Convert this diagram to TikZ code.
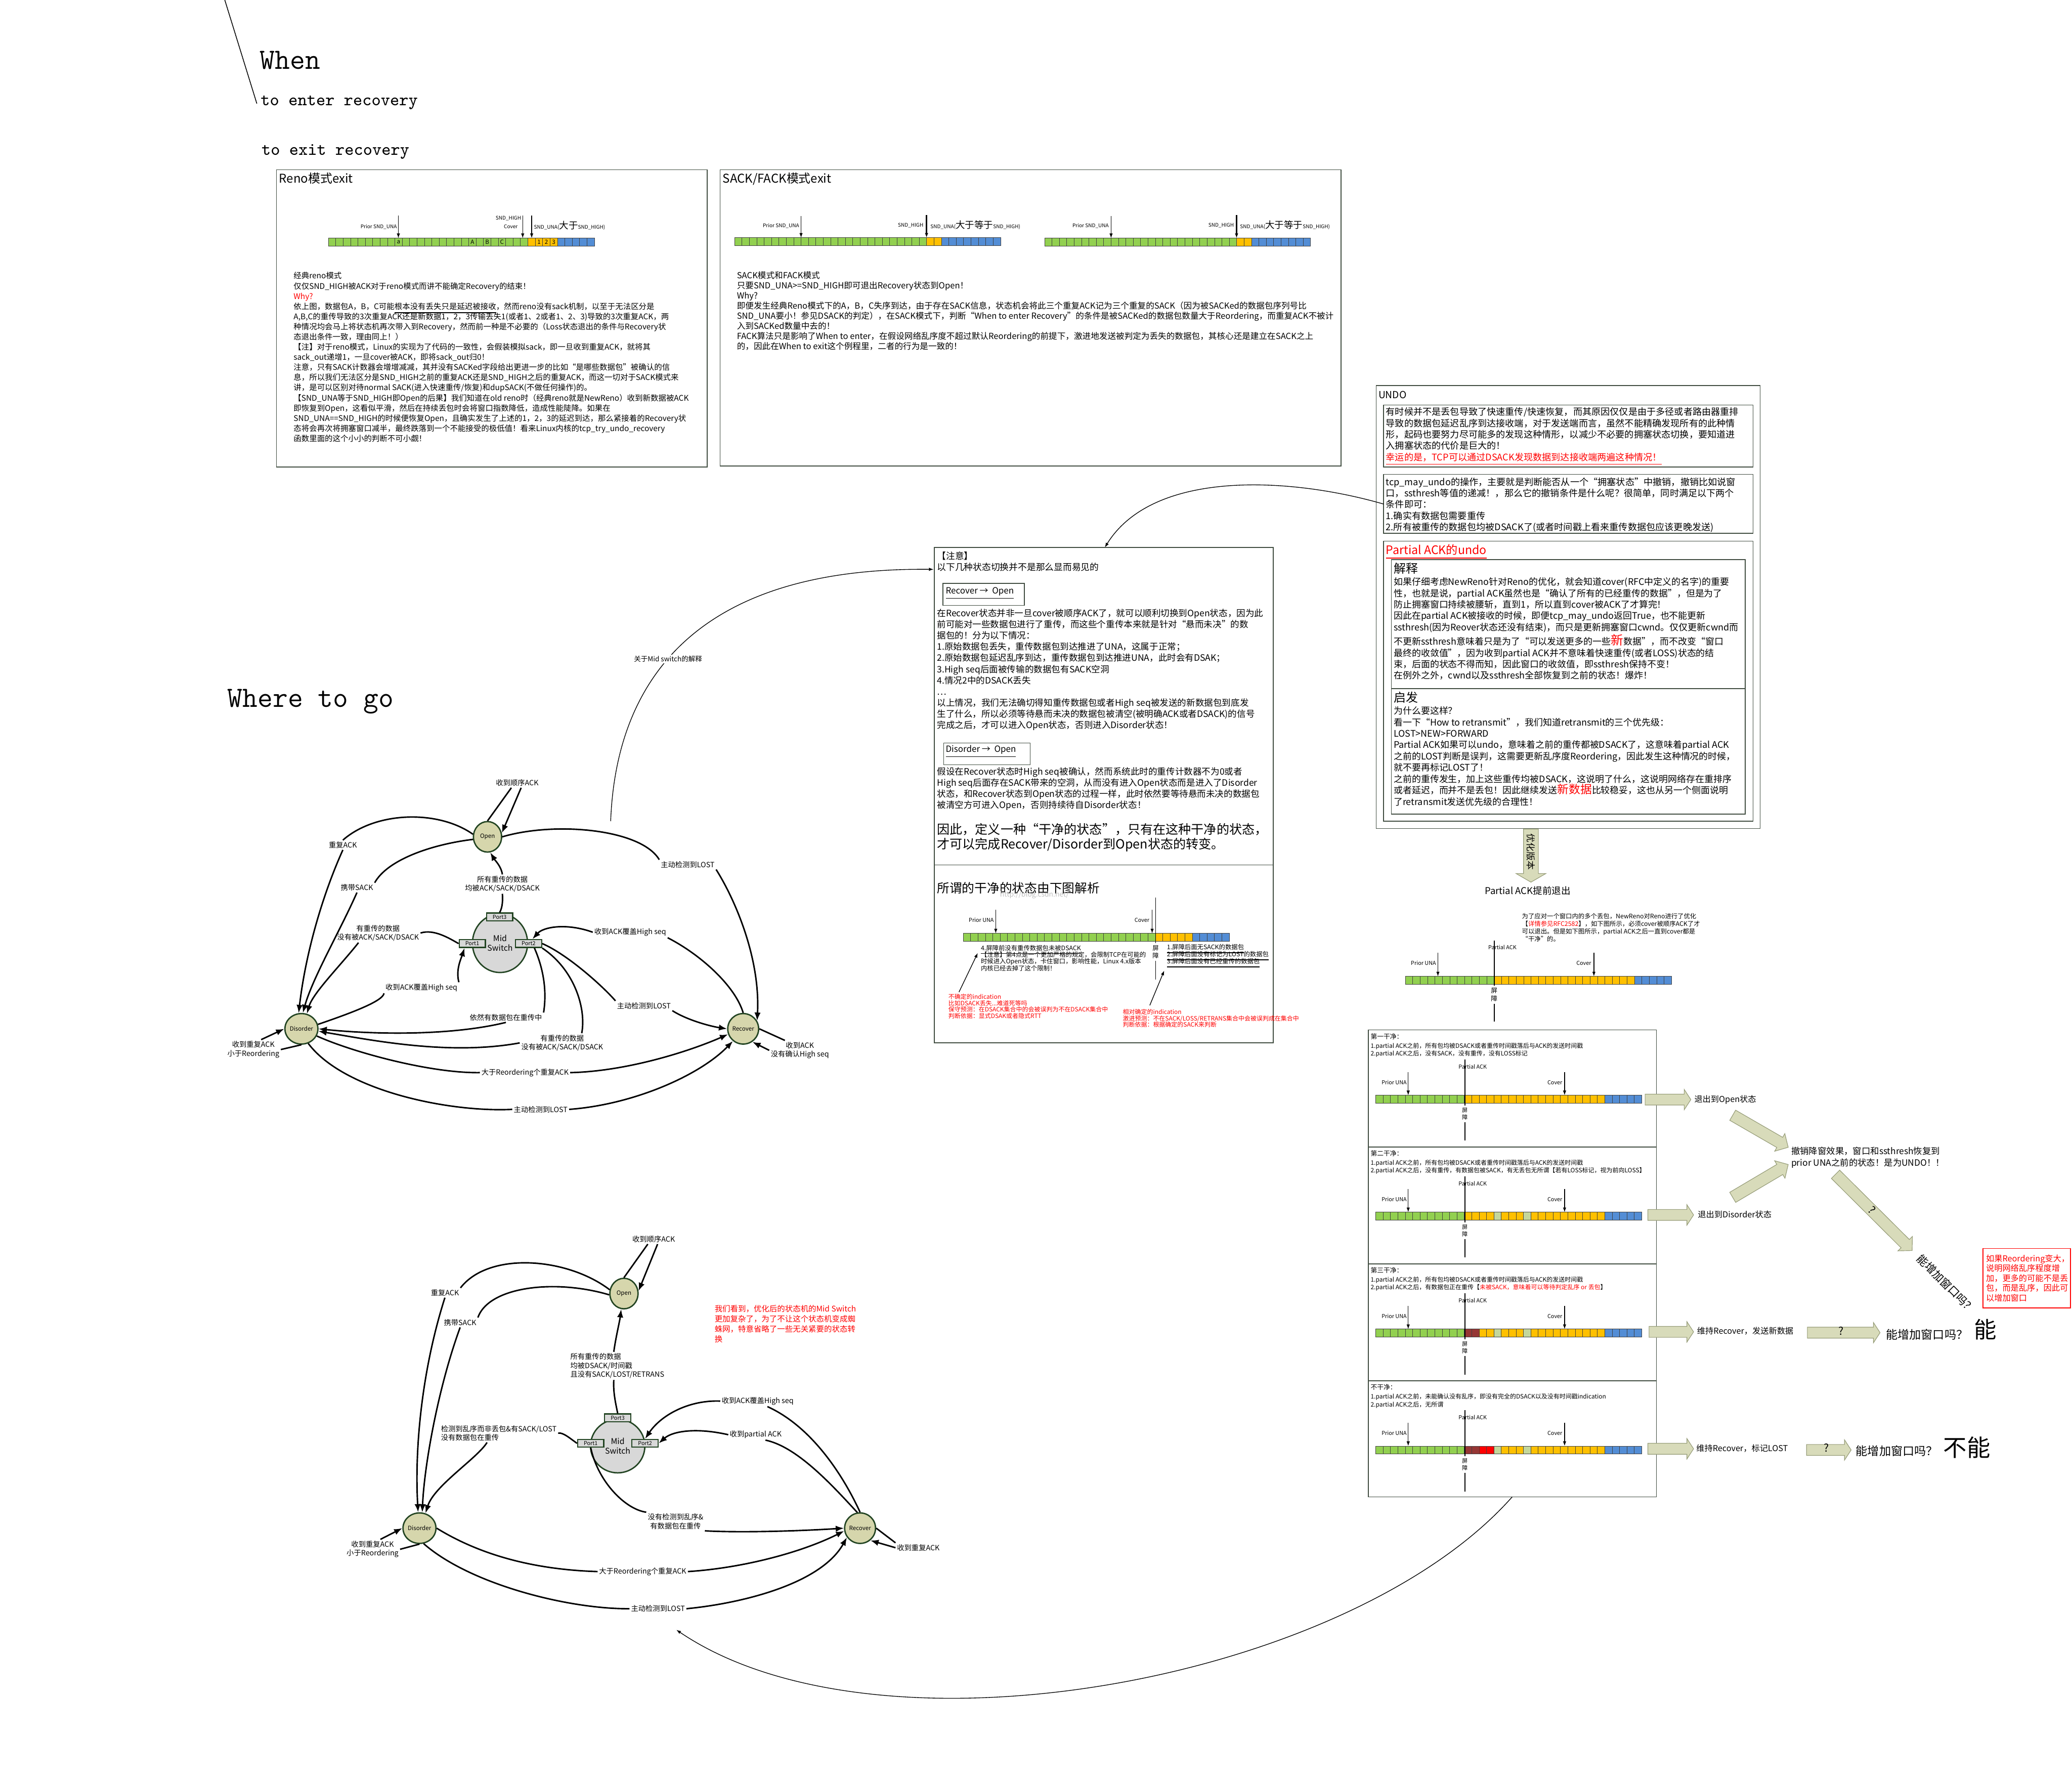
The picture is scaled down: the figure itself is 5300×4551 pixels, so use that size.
\documentclass[tikz,border=0pt]{standalone}
\usepackage{fontspec}
\setmainfont{Noto Sans CJK SC}
\usetikzlibrary{arrows.meta,shapes.geometric,calc}

\definecolor{cg}{RGB}{146,208,80}
\definecolor{co}{RGB}{255,192,0}
\definecolor{cb}{RGB}{83,141,213}
\definecolor{cl}{RGB}{196,215,155}
\definecolor{cd}{RGB}{150,54,52}
\definecolor{cr}{RGB}{255,0,0}
\definecolor{statefill}{RGB}{214,214,172}
\definecolor{stateedge}{RGB}{34,68,34}
\definecolor{switchfill}{RGB}{216,216,216}
\definecolor{arrowfill}{RGB}{216,219,186}
\definecolor{arrowedge}{RGB}{150,156,120}
\definecolor{framecol}{RGB}{64,76,64}

\newcommand{\fsz}[2]{\fontsize{#1}{#2}\selectfont}
\newcommand{\uln}[1]{\smash{\underline{#1}}}

\tikzset{
  every picture/.style={line width=0.4pt},
  frame/.style={draw=framecol, line width=0.4pt},
  cellline/.style={draw=black!75, line width=0.25pt},
  ptr/.style={line width=0.35pt, -{Latex[length=2.4pt,width=1.7pt]}},
  barrier/.style={line width=0.45pt},
  txt/.style={anchor=north west, inner sep=0pt, align=left},
  lbl/.style={inner sep=0pt},
  state/.style={ellipse, draw=stateedge, line width=0.7pt, fill=statefill, inner sep=0pt,
    minimum width=14.4pt, minimum height=15.6pt, font=\fsz{3}{3.6}},
  switchnode/.style={ellipse, draw=stateedge, line width=0.7pt, fill=switchfill, inner sep=0pt,
    minimum width=28.2pt, minimum height=30pt, align=center, font=\fsz{4.1}{5}},
  port/.style={rectangle, draw=stateedge, line width=0.6pt, fill=switchfill, inner sep=0pt,
    minimum width=13.4pt, minimum height=4pt, font=\fsz{2.8}{3}},
  elbl/.style={inner sep=0.6pt, align=center, font=\fsz{3.7}{4.5}},
  flowline/.style={line width=0.75pt},
  flow/.style={line width=0.75pt, -{Latex[length=4.2pt,width=3.2pt]}},
  blockar/.style={draw=arrowedge, fill=arrowfill, line width=0.3pt},
}

% a row of sequence cells: x, y, list colour/count
\newcount\cellno
\newcommand{\seqbar}[3]{%
  \global\cellno=0
  \foreach \cc/\nn in {#3}{%
    \foreach \kk in {1,...,\nn}{%
      \draw[cellline, fill=\cc] ({#1+18.9*\the\cellno},#2) rectangle ++(18.9,20);
      \global\advance\cellno by 1
    }%
  }%
}

% fat arrow: tail, tip, half shaft, half head, head length
\newcommand{\blockarrow}[5]{%
  \coordinate (ba-c) at ($(#2)!#5!(#1)$);
  \draw[blockar] ($(#1)!#3!90:(#2)$) -- ($(ba-c)!#3!90:(#2)$) -- ($(ba-c)!#4!90:(#2)$) -- (#2)
    -- ($(ba-c)!#4!-90:(#2)$) -- ($(ba-c)!#3!-90:(#2)$) -- ($(#1)!#3!-90:(#2)$) -- cycle;
}

% one "clean" panel: index, top, cells
\newcommand{\cleanpanel}[3]{%
  \seqbar{3519}{#2+167}{#3}
  \draw[ptr] (3602,#2+108) -- (3602,#2+167);
  \draw[ptr] (4002,#2+108) -- (4002,#2+167);
  \node[lbl, anchor=base east, font=\fsz{2.8}{3}] (prior#1) at (3599,#2+139) {Prior UNA};
  \node[lbl, anchor=base east, font=\fsz{2.8}{3}] (cover#1) at (3997,#2+139) {Cover};
  \node[lbl, anchor=base west, font=\fsz{2.8}{3}] (pack#1) at (3730,#2+99) {Partial ACK};
  \node[lbl, inner sep=1pt, align=center, font=\fsz{2.9}{3.6}] (wall#1) at (3747,#2+214) {屏\\障};
  \draw[barrier] (3747,#2+75) -- (wall#1.north);
  \draw[barrier] (wall#1.south) -- (3747,#2+283);
}

\begin{document}
\begin{tikzpicture}[x=0.2pt,y=0.2pt,yscale=-1,xscale=1]
\useasboundingbox (0,0) rectangle (5300,4551);

%% headings
\draw (575,0) -- (657,265);
\node[lbl, anchor=base west, font=\ttfamily\fsz{15}{16}] (whenTitle) at (664,176) {When};
\node[lbl, anchor=base west, font=\ttfamily\fsz{9}{10}] (enterTitle) at (666,270) {to enter recovery};
\node[lbl, anchor=base west, font=\ttfamily\fsz{9}{10}] (exitTitle) at (668,396) {to exit recovery};
\node[lbl, anchor=base west, font=\ttfamily\fsz{15}{16}] (whereTitle) at (581,1808) {Where to go};

%% Reno box
\draw[frame] (707,434) rectangle (1809,1194);
\node[lbl, anchor=base west, font=\fsz{6.2}{7}] (renoTitle) at (713,468) {Reno模式exit};
\seqbar{840}{609}{cg/27,co/4,cb/5}
\foreach \lab/\ci in {a/9,A/19,B/21,C/23,1/28,2/29,3/30}
  \node[lbl, font=\fsz{3}{3}] (renoCell\ci) at ({840+18.9*(\ci+0.5)},619) {\lab};
\draw[ptr] (1019,551) -- (1019,609);
\draw[ptr] (1337,551) -- (1337,609);
\draw[ptr] (1360,551) -- (1360,609);
\node[lbl, anchor=base east, font=\fsz{2.6}{3}] (renoPrior) at (1016,584) {Prior SND\_UNA};
\node[lbl, anchor=base east, font=\fsz{2.6}{3}] (renoHigh) at (1334,562) {SND\_HIGH};
\node[lbl, anchor=base east, font=\fsz{2.6}{3}] (renoCover) at (1325,584) {Cover};
\node[lbl, anchor=base west] (renoUna) at (1365,586) {{\fsz{2.6}{3}SND\_UNA(}{\fsz{4.8}{5}大于}{\fsz{2.6}{3}SND\_HIGH)}};
\node[txt, font=\fsz{4.0}{5.2}] (renoText) at (750,695) {经典reno模式\\
仅仅SND\_HIGH被ACK对于reno模式而讲不能确定Recovery的结束！\\
\textcolor{red}{Why?}\\
依上图，数据包A，B，C可能\uln{根本没有丢失只是延迟被接收}，然而reno没有sack机制，以至于无法区分是\\
A,B,C的重传导致的3次重复ACK还是新数据1，2，3传输丢失1(或者1、2或者1、2、3)导致的3次重复ACK，两\\
种情况均会马上将状态机再次带入到Recovery，然而前一种是不必要的（Loss状态退出的条件与Recovery状\\
态退出条件一致，理由同上！）\\
【注】对于reno模式，Linux的实现为了代码的一致性，会假装模拟sack，即一旦收到重复ACK，就将其\\
sack\_out递增1，一旦cover被ACK，即将sack\_out归0！\\
注意，只有SACK计数器会增增减减，其并没有SACKed字段给出更进一步的比如“是哪些数据包”被确认的信\\
息，所以我们无法区分是SND\_HIGH之前的重复ACK还是SND\_HIGH之后的重复ACK，而这一切对于SACK模式来\\
讲，是可以区别对待normal SACK(进入快速重传/恢复)和dupSACK(不做任何操作)的。\\
【SND\_UNA等于SND\_HIGH即Open的后果】我们知道在old reno时（经典reno就是NewReno）收到新数据被ACK\\
即恢复到Open，这看似平滑，然后在持续丢包时会将窗口指数降低，造成性能陡降。如果在\\
SND\_UNA==SND\_HIGH的时候便恢复Open，且确实发生了上述的1，2，3的延迟到达，那么紧接着的Recovery状\\
态将会再次将拥塞窗口减半，最终跌落到一个不能接受的极低值！看来Linux内核的tcp\_try\_undo\_recovery\\
函数里面的这个小小的判断不可小觑！};

%% SACK/FACK box
\draw[frame] (1842,434) rectangle (3430,1192);
\node[lbl, anchor=base west, font=\fsz{6.2}{7}] (sackTitle) at (1848,468) {SACK/FACK模式exit};
\seqbar{1879}{608}{cg/26,co/2,cb/8}
\draw[ptr] (2049,553) -- (2049,608);
\draw[ptr, line width=0.8pt] (2370,550) -- (2370,608);
\node[lbl, anchor=base east, font=\fsz{2.6}{3}] (sackPriorA) at (2045,582) {Prior SND\_UNA};
\node[lbl, anchor=base east, font=\fsz{2.6}{3}] (sackHighA) at (2363,580) {SND\_HIGH};
\node[lbl, anchor=base west] (sackUnaA) at (2379,584) {{\fsz{2.6}{3}SND\_UNA(}{\fsz{4.8}{5}大于等于}{\fsz{2.6}{3}SND\_HIGH)}};
\seqbar{2672}{609}{cg/26,co/2,cb/8}
\draw[ptr] (2842,553) -- (2842,609);
\draw[ptr, line width=0.8pt] (3163,550) -- (3163,609);
\node[lbl, anchor=base east, font=\fsz{2.6}{3}] (sackPriorB) at (2837,582) {Prior SND\_UNA};
\node[lbl, anchor=base east, font=\fsz{2.6}{3}] (sackHighB) at (3157,580) {SND\_HIGH};
\node[lbl, anchor=base west] (sackUnaB) at (3171,584) {{\fsz{2.6}{3}SND\_UNA(}{\fsz{4.8}{5}大于等于}{\fsz{2.6}{3}SND\_HIGH)}};
\node[txt, font=\fsz{4.3}{5.2}] (sackText) at (1884,693) {SACK模式和FACK模式\\
只要SND\_UNA>=SND\_HIGH即可退出Recovery状态到Open！\\
Why?\\
即便发生经典Reno模式下的A，B，C失序到达，由于存在SACK信息，状态机会将此三个重复ACK记为三个重复的SACK（因为被SACKed的数据包序列号比\\
SND\_UNA要小！参见DSACK的判定），在SACK模式下，判断“When to enter Recovery”的条件是被SACKed的数据包数量大于Reordering，而重复ACK不被计\\
入到SACKed数量中去的！\\
FACK算法只是影响了When to enter，在假设网络乱序度不超过默认Reordering的前提下，激进地发送被判定为丢失的数据包，其核心还是建立在SACK之上\\
的，因此在When to exit这个例程里，二者的行为是一致的！};

%% UNDO box
\draw[frame] (3520,986) rectangle (4502,2119);
\node[lbl, anchor=base west, font=\fsz{5}{6}] (undoTitle) at (3525,1019) {UNDO};
\draw[frame] (3539,1036) rectangle (4484,1194);
\node[txt, font=\fsz{4.7}{5.8}] (undoWhy) at (3544,1041) {有时候并不是丢包导致了快速重传/快速恢复，而其原因仅仅是由于多径或者路由器重排\\
导致的数据包延迟乱序到达接收端，对于发送端而言，虽然不能精确发现所有的此种情\\
形，起码也要努力尽可能多的发现这种情形，以减少不必要的拥塞状态切换，要知道进\\
入拥塞状态的代价是巨大的！\\
\textcolor{red}{\uln{幸运的是，TCP可以通过DSACK发现数据到达接收端两遍这种情况！}}};
\draw[frame] (3539,1213) rectangle (4484,1364);
\node[txt, font=\fsz{4.7}{5.8}] (undoCond) at (3544,1220) {tcp\_may\_undo的操作，主要就是判断能否从一个“拥塞状态”中撤销，撤销比如说窗\\
口，ssthresh等值的递减！，那么它的撤销条件是什么呢？很简单，同时满足以下两个\\
条件即可：\\
1.确实有数据包需要重传\\
2.所有被重传的数据包均被DSACK了(或者时间戳上看来重传数据包应该更晚发送)};
\draw[frame] (3539,1384) rectangle (4484,2100);
\node[lbl, anchor=base west, font=\fsz{6}{7}, text=red] (partialTitle) at (3544,1418) {\underline{Partial ACK的undo}};
\draw[frame] (3559,1431) rectangle (4464,1761);
\draw[frame] (3559,1761) rectangle (4464,2082);
\node[lbl, anchor=base west, font=\fsz{6.2}{7}] (explainTitle) at (3564,1465) {解释};
\node[txt, font=\fsz{4.65}{5.8}] (explainText) at (3564,1476) {如果仔细考虑NewReno针对Reno的优化，就会知道cover(RFC中定义的名字)的重要\\
性，也就是说，partial ACK虽然也是“确认了所有的已经重传的数据”，但是为了\\
防止拥塞窗口持续被腰斩，直到1，所以直到cover被ACK了才算完！\\
因此在partial ACK被接收的时候，即便tcp\_may\_undo返回True，也不能更新\\
ssthresh(因为Reover状态还没有结束)，而只是更新拥塞窗口cwnd。仅仅更新cwnd而\\
不更新ssthresh意味着只是为了“可以发送更多的一些{\fsz{6.4}{6.4}\textcolor{red}{新}}数据”，而不改变“窗口\\
最终的收敛值”，因为收到partial ACK并不意味着快速重传(或者LOSS)状态的结\\
束，后面的状态不得而知，因此窗口的收敛值，即ssthresh保持不变！\\
在例外之外，cwnd以及ssthresh全部恢复到之前的状态！爆炸！};
\node[lbl, anchor=base west, font=\fsz{6.2}{7}] (inspireTitle) at (3564,1795) {启发};
\node[txt, font=\fsz{4.65}{5.8}] (inspireText) at (3564,1806) {为什么要这样？\\
看一下“How to retransmit”，我们知道retransmit的三个优先级：\\
LOST>NEW>FORWARD\\
Partial ACK如果可以undo，意味着之前的重传都被DSACK了，这意味着partial ACK\\
之前的LOST判断是误判，这需要更新乱序度Reordering，因此发生这种情况的时候，\\
就不要再标记LOST了！\\
之前的重传发生，加上这些重传均被DSACK，这说明了什么，这说明网络存在重排序\\
或者延迟，而并不是丢包！因此继续发送{\fsz{5.9}{5.9}\textcolor{red}{新数据}}比较稳妥，这也从另一个侧面说明\\
了retransmit发送优先级的合理性！};

%% link from the undo conditions to the note
\coordinate (undoLink) at (3539,1289);
\coordinate (noteTop) at (2826,1400);
\draw[ptr] (undoLink) .. controls (3300,1220) and (2950,1200) .. (noteTop);

%% note box
\draw[frame] (2390,1400) rectangle (3257,2667);
\draw[frame] (2390,2212) -- (3257,2212);
\node[txt, font=\fsz{4.6}{5.8}] (noteHead) at (2396,1410) {【注意】\\以下几种状态切换并不是那么显而易见的};
\draw[frame] (2412,1492) rectangle (2620,1548);
\node[lbl, anchor=base west, font=\fsz{4.4}{5}] (recOpenTag) at (2418,1518) {\underline{Recover → \ Open}};
\node[txt, font=\fsz{4.55}{5.74}] (recOpenText) at (2396,1556) {在Recover状态并非一旦cover被顺序ACK了，就可以顺利切换到Open状态，因为此\\
前可能对一些数据包进行了重传，而这些个重传本来就是针对“悬而未决”的数\\
据包的！分为以下情况：\\
1.原始数据包丢失，重传数据包到达推进了UNA，这属于正常；\\
2.原始数据包延迟乱序到达，重传数据包到达推进UNA，此时会有DSAK；\\
3.High seq后面被传输的数据包有SACK空洞\\
4.情况2中的DSACK丢失\\
…\\
以上情况，我们无法确切得知重传数据包或者High seq被发送的新数据包到底发\\
生了什么，所以必须等待悬而未决的数据包被清空(被明确ACK或者DSACK)的信号\\
完成之后，才可以进入Open状态，否则进入Disorder状态！};
\draw[frame] (2414,1900) rectangle (2635,1956);
\node[lbl, anchor=base west, font=\fsz{4.4}{5}] (disOpenTag) at (2418,1923) {\underline{Disorder → \ Open}};
\node[txt, font=\fsz{4.55}{5.74}] (disOpenText) at (2396,1961) {假设在Recover状态时High seq被确认，然而系统此时的重传计数器不为0或者\\
High seq后面存在SACK带来的空洞，从而没有进入Open状态而是进入了Disorder\\
状态，和Recover状态到Open状态的过程一样，此时依然要等待悬而未决的数据包\\
被清空方可进入Open，否则持续待自Disorder状态！};
\node[txt, font=\fsz{6.5}{7.6}] (cleanDef) at (2396,2104) {因此，定义一种“干净的状态”，只有在这种干净的状态，\\才可以完成Recover/Disorder到Open状态的转变。};

%% clean state figure
\node[lbl, anchor=base west, font=\fsz{6.4}{7}] (cleanTitle) at (2396,2283) {所谓的干净的状态由下图解析};
\node[lbl, anchor=base west, font=\fsz{3.6}{4}, text=black!25] (watermark) at (2557,2293) {http://blog.csdn.net/};
\seqbar{2464}{2387}{cg/26,co/5,cb/5}
\draw[ptr] (2547,2327) -- (2547,2387);
\draw[ptr] (2947,2327) -- (2947,2387);
\node[lbl, anchor=base east, font=\fsz{2.8}{3}] (cleanPrior) at (2543,2358) {Prior UNA};
\node[lbl, anchor=base east, font=\fsz{2.8}{3}] (cleanCover) at (2941,2358) {Cover};
\node[lbl, inner sep=1pt, align=center, font=\fsz{3.2}{3.9}] (cleanWall) at (2956,2435) {屏\\障};
\draw[barrier] (2956,2295) -- (cleanWall.north);
\draw[barrier] (cleanWall.south) -- (2956,2505);
\node[txt, font=\fsz{3.2}{3.46}] (beforeWall) at (2508,2429) {\uln{4.屏障前没有重传数据包未被DSACK}\\
【注意】第4点是一个更加严格的规定，会限制TCP在可能的\\
时候进入Open状态，卡住窗口，影响性能，Linux 4.x版本\\
内核已经去掉了这个限制！};
\node[txt, font=\fsz{3.2}{3.6}] (afterWall) at (2984,2427) {\uln{1.屏障后面无SACK的数据包}\\
\uln{2.屏障后面没有标记为LOST的数据包}\\
\uln{3.屏障后面没有已经重传的数据包}};
\node[txt, font=\fsz{3.1}{3.26}, text=red] (uncertNote) at (2425,2541) {不确定的indication\\
比如DSACK丢失...难道死等吗\\
保守预测：在DSACK集合中的会被误判为不在DSACK集合中\\
判断依据：显式DSAK或者隐式RTT};
\node[txt, font=\fsz{3.1}{3.2}, text=red] (certNote) at (2871,2580) {相对确定的indication\\
激进预测：不在SACK/LOSS/RETRANS集合中会被误判成在集合中\\
判断依据：根据确定的SACK来判断};
\coordinate (uncertTail) at (2453,2537);
\coordinate (uncertTip) at (2501,2437);
\draw[ptr] (uncertTail) -- (uncertTip);
\coordinate (certTail) at (2941,2571);
\coordinate (certTip) at (2978,2482);
\draw[ptr] (certTail) -- (certTip);

%% optimisation arrow and partial ACK early exit
\coordinate (optTail) at (3916,2120);
\coordinate (optTip) at (3916,2256);
\blockarrow{optTail}{optTip}{3.8pt}{7.6pt}{4.4pt}
\node[lbl, rotate=-90, font=\fsz{4.6}{5}] (optLabel) at (3916,2178) {优化版本};
\node[lbl, anchor=base west, font=\fsz{4.8}{5.6}] (earlyTitle) at (3797,2287) {Partial ACK提前退出};
\node[txt, font=\fsz{3.2}{3.94}] (earlyText) at (3892,2334) {为了应对一个窗口内的多个丢包，NewReno对Reno进行了优化\\
【\textcolor{red}{详情参见RFC2582}】，如下图所示，必须cover被顺序ACK了才\\
可以退出。但是如下图所示，partial ACK之后一直到cover都是\\
“干净”的。};
\seqbar{3595}{2497}{cg/12,co/19,cb/5}
\draw[ptr] (3678,2436) -- (3678,2497);
\draw[ptr] (4077,2436) -- (4077,2497);
\node[lbl, anchor=base east, font=\fsz{2.8}{3}] (earlyPrior) at (3674,2468) {Prior UNA};
\node[lbl, anchor=base east, font=\fsz{2.8}{3}] (earlyCover) at (4071,2468) {Cover};
\node[lbl, anchor=base west, font=\fsz{2.8}{3}] (earlyPack) at (3806,2428) {Partial ACK};
\node[lbl, inner sep=1pt, align=center, font=\fsz{3.3}{4}] (earlyWall) at (3822,2544) {屏\\障};
\draw[barrier] (3822,2405) -- (earlyWall.north);
\draw[barrier] (earlyWall.south) -- (3822,2613);

%% four clean panels
\draw[frame] (3500,2634) rectangle (4237,3828);
\foreach \yy in {2933,3232,3531} \draw[frame] (3500,\yy) -- (4237,\yy);
\node[txt, font=\fsz{3.3}{4}] (cleanOneTitle) at (3505,2642) {第一干净：};
\node[txt, font=\fsz{3.1}{4}] (cleanOneText) at (3505,2666) {1.partial ACK之前，所有包均被DSACK或者重传时间戳落后与ACK的发送时间戳\\
2.partial ACK之后，没有SACK，没有重传，没有LOSS标记};
\cleanpanel{1}{2634}{cg/12,co/19,cb/5}
\node[txt, font=\fsz{3.3}{4}] (cleanTwoTitle) at (3505,2941) {第二干净：};
\node[txt, font=\fsz{3.1}{4}] (cleanTwoText) at (3505,2965) {1.partial ACK之前，所有包均被DSACK或者重传时间戳落后与ACK的发送时间戳\\
2.partial ACK之后，没有重传，有数据包被SACK，有无丢包无所谓【若有LOSS标记，视为前向LOSS】};
\cleanpanel{2}{2933}{cg/12,co/4,cl/1,co/3,cl/1,co/10,cb/5}
\node[txt, font=\fsz{3.3}{4}] (cleanThreeTitle) at (3505,3240) {第三干净：};
\node[txt, font=\fsz{3.1}{4}] (cleanThreeText) at (3505,3264) {1.partial ACK之前，所有包均被DSACK或者重传时间戳落后与ACK的发送时间戳\\
2.partial ACK之后，有数据包正在重传【\textcolor{red}{未被SACK，意味着可以等待判定乱序 or 丢包}】};
\cleanpanel{3}{3232}{cg/12,cd/2,co/2,cl/1,co/3,cl/1,co/10,cb/5}
\node[txt, font=\fsz{3.3}{4}] (dirtyTitle) at (3505,3539) {不干净：};
\node[txt, font=\fsz{3.1}{4}] (dirtyText) at (3505,3563) {1.partial ACK之前，未能确认没有乱序，即没有完全的DSACK以及没有时间戳indication\\
2.partial ACK之后，无所谓};
\cleanpanel{4}{3531}{cg/12,cd/2,cr/2,cl/1,co/3,cl/1,co/10,cb/5}

%% outcomes on the right
\coordinate (outOneT) at (4208,2812);   \coordinate (outOneH) at (4325,2812);
\coordinate (outTwoT) at (4215,3107);   \coordinate (outTwoH) at (4332,3107);
\coordinate (outThreeT) at (4218,3406); \coordinate (outThreeH) at (4332,3406);
\coordinate (outFourT) at (4215,3705);  \coordinate (outFourH) at (4332,3705);
\coordinate (askThreeT) at (4623,3408); \coordinate (askThreeH) at (4809,3408);
\coordinate (askFourT) at (4621,3708);  \coordinate (askFourH) at (4735,3708);
\blockarrow{outOneT}{outOneH}{2.8pt}{5.2pt}{3.4pt}
\blockarrow{outTwoT}{outTwoH}{2.8pt}{5.2pt}{3.4pt}
\blockarrow{outThreeT}{outThreeH}{2.8pt}{5.2pt}{3.4pt}
\blockarrow{outFourT}{outFourH}{2.8pt}{5.2pt}{3.4pt}
\blockarrow{askThreeT}{askThreeH}{2.8pt}{5.2pt}{3.4pt}
\blockarrow{askFourT}{askFourH}{2.8pt}{5.2pt}{3.4pt}
\node[lbl, anchor=base west, font=\fsz{4.2}{5}] (toOpen) at (4333,2819) {退出到Open状态};
\node[lbl, anchor=base west, font=\fsz{4.2}{5}] (toDisorder) at (4342,3114) {退出到Disorder状态};
\node[lbl, anchor=base west, font=\fsz{4.2}{5}] (keepNew) at (4340,3412) {维持Recover，发送新数据};
\node[lbl, anchor=base west, font=\fsz{4.2}{5}] (keepLost) at (4338,3711) {维持Recover，标记LOST};
\node[lbl, font=\fsz{5.5}{6}] (askThreeQ) at (4709,3404) {?};
\node[lbl, font=\fsz{5.5}{6}] (askFourQ) at (4672,3703) {?};
\node[lbl, anchor=base west, font=\fsz{6}{7}] (growThree) at (4823,3424) {能增加窗口吗？};
\node[lbl, anchor=base west, font=\fsz{11.5}{12}] (canYes) at (5048,3422) {能};
\node[lbl, anchor=base west, font=\fsz{6}{7}] (growFour) at (4746,3722) {能增加窗口吗？};
\node[lbl, anchor=base west, font=\fsz{12}{13}] (canNo) at (4970,3724) {不能};
\coordinate (joinOpenT) at (4432,2852);  \coordinate (joinOpenH) at (4574,2934);
\coordinate (joinDisT) at (4432,3062);   \coordinate (joinDisH) at (4574,2978);
\coordinate (undoAskT) at (4695,3003);   \coordinate (undoAskH) at (4891,3198);
\blockarrow{joinOpenT}{joinOpenH}{3pt}{5.2pt}{5pt}
\blockarrow{joinDisT}{joinDisH}{3pt}{5.2pt}{5pt}
\blockarrow{undoAskT}{undoAskH}{3pt}{5.2pt}{5pt}
\node[txt, font=\fsz{4.5}{6}] (undoEffect) at (4581,2932) {撤销降窗效果，窗口和ssthresh恢复到\\prior UNA之前的状态！是为UNDO！！};
\node[lbl, rotate=-45, font=\fsz{5.5}{6}] (undoAskQ) at (4789,3094) {?};
\node[lbl, rotate=-45, font=\fsz{5.6}{6}] (growDiag) at (4978,3283) {能增加窗口吗？};
\draw[red, line width=0.35pt] (5072,3193) rectangle (5296,3345);
\node[txt, font=\fsz{4.2}{5.06}, text=red] (reorderNote) at (5079,3207) {如果Reordering变大，\\
说明网络乱序程度增\\
加，更多的可能不是丢\\
包，而是乱序，因此可\\
以增加窗口};

%% long pointer from the panels back to the new machine
\coordinate (panelFoot) at (3868,3828);
\coordinate (lowerEntry) at (1730,4168);
\draw[ptr] (panelFoot) .. controls (3450,4300) and (2250,4520) .. (lowerEntry);

%% upper state machine
\node[state] (open1) at (1247,2140) {Open};
\node[switchnode] (mid1) at (1279,2412) {Mid\\Switch};
\node[port] (p3a) at (1278,2345) {Port3};
\node[port] (p1a) at (1208,2413) {Port1};
\node[port] (p2a) at (1352,2413) {Port2};
\node[state] (dis1) at (771,2631) {Disorder};
\node[state] (rec1) at (1901,2631) {Recover};

\node[elbl] (lOrd1) at (1323,2002) {收到顺序ACK};
\node[elbl] (lDup1) at (877,2161) {重复ACK};
\node[elbl] (lSack1) at (913,2270) {携带SACK};
\node[elbl] (lLost1a) at (1759,2211) {主动检测到LOST};
\node[elbl] (lAll1) at (1285,2261) {所有重传的数据\\均被ACK/SACK/DSACK};
\node[elbl] (lRt1) at (967,2386) {有重传的数据\\没有被ACK/SACK/DSACK};
\node[elbl] (lCov1a) at (1078,2526) {收到ACK覆盖High seq};
\node[elbl] (lCov1b) at (1612,2384) {收到ACK覆盖High seq};
\node[elbl] (lLost1b) at (1647,2572) {主动检测到LOST};
\node[elbl] (lStill1) at (1294,2602) {依然有数据包在重传中};
\node[elbl] (lRt1b) at (1438,2667) {有重传的数据\\没有被ACK/SACK/DSACK};
\node[elbl] (lReo1) at (1343,2743) {大于Reordering个重复ACK};
\node[elbl] (lLost1c) at (1383,2837) {主动检测到LOST};
\node[elbl] (lDisSelf1) at (648,2684) {收到重复ACK\\小于Reordering};
\node[elbl] (lRecSelf1) at (2046,2686) {收到ACK\\没有确认High seq};

\draw[flowline] (open1.north) -- ([xshift=-3pt]lOrd1.south);
\draw[flow] ([xshift=2pt]lOrd1.south) -- (open1.15);
\draw[flowline] (open1.170) .. controls (1120,2070) and (960,2075) .. (lDup1.north);
\draw[flow] (lDup1.south) .. controls (820,2300) and (780,2450) .. (dis1.100);
\draw[flowline] (open1.190) .. controls (1100,2160) and (990,2200) .. (lSack1.north east);
\draw[flow] (lSack1.south) .. controls (870,2380) and (800,2500) .. (dis1.85);
\draw[flowline] (open1.east) .. controls (1420,2100) and (1640,2120) .. (lLost1a.north west);
\draw[flow] (lLost1a.south east) .. controls (1880,2300) and (1945,2450) .. (rec1.30);
\draw[flowline] (p3a.north) .. controls (1286,2320) and (1286,2300) .. (lAll1.south);
\draw[flow] (lAll1.north) .. controls (1282,2215) and (1266,2200) .. (open1.-80);
\draw[flowline] (p1a.west) .. controls (1150,2400) and (1110,2375) .. (lRt1.east);
\draw[flow] ([xshift=-10pt]lRt1.south) .. controls (870,2470) and (800,2540) .. (dis1.70);
\draw[flowline] (dis1.15) .. controls (900,2590) and (980,2560) .. (lCov1a.south west);
\draw[flow] (lCov1a.north east) .. controls (1165,2480) and (1180,2450) .. ([xshift=-4pt]p1a.south);
\draw[flowline] (rec1.north) .. controls (1880,2520) and (1790,2440) .. (lCov1b.south east);
\draw[flow] (lCov1b.west) .. controls (1450,2360) and (1390,2370) .. ([xshift=2pt]p2a.north);
\draw[flowline] (p2a.east) .. controls (1450,2440) and (1540,2520) .. (lLost1b.north west);
\draw[flow] (lLost1b.south east) .. controls (1760,2610) and (1820,2625) .. (rec1.west);
\draw[flowline] ([xshift=3pt]p2a.south) .. controls (1400,2500) and (1395,2560) .. (lStill1.north east);
\draw[flow] (lStill1.south) .. controls (1150,2650) and (950,2645) .. (dis1.east);
\draw[flowline] (p2a.south east) .. controls (1470,2480) and (1500,2580) .. ([xshift=10pt]lRt1b.north);
\draw[flow] (lRt1b.west) .. controls (1150,2700) and (950,2660) .. (dis1.-8);
\draw[flowline] (dis1.-25) .. controls (900,2690) and (1100,2745) .. (lReo1.west);
\draw[flow] (lReo1.east) .. controls (1600,2740) and (1760,2690) .. (rec1.200);
\draw[flowline] (dis1.-65) .. controls (880,2790) and (1150,2845) .. (lLost1c.west);
\draw[flow] (lLost1c.east) .. controls (1620,2825) and (1790,2750) .. (rec1.230);
\draw[flowline] (dis1.south) -- (lDisSelf1.east);
\draw[flow] ([xshift=4pt]lDisSelf1.north) -- (dis1.west);
\draw[flowline] (rec1.east) -- ([xshift=8pt]lRecSelf1.north west);
\draw[flow] (lRecSelf1.west) -- (rec1.-55);

%% pointer from the machine to the note
\coordinate (midNoteFoot) at (1562,2100);
\coordinate (noteEntry) at (2388,1456);
\draw[ptr] (midNoteFoot) .. controls (1575,1760) and (1760,1450) .. (noteEntry)
  node[pos=0.45, elbl, fill=white, font=\fsz{3.5}{4}] (midNoteLbl) {关于Mid switch的解释};

%% lower (optimised) state machine
\node[state] (open2) at (1596,3308) {Open};
\node[switchnode, minimum width=27.8pt, minimum height=27.4pt] (mid2) at (1580,3698) {Mid\\Switch};
\node[port] (p3b) at (1580,3626) {Port3};
\node[port] (p1b) at (1511,3691) {Port1};
\node[port] (p2b) at (1650,3691) {Port2};
\node[state] (dis2) at (1073,3908) {Disorder};
\node[state] (rec2) at (2200,3908) {Recover};

\node[elbl] (lOrd2) at (1672,3169) {收到顺序ACK};
\node[elbl] (lDup2) at (1138,3306) {重复ACK};
\node[elbl] (lSack2) at (1177,3382) {携带SACK};
\node[elbl, anchor=west, align=left] (lAll2) at (1455,3493) {所有重传的数据\\均被DSACK/时间戳\\且没有SACK/LOST/RETRANS};
\node[elbl, anchor=west, align=left] (lReo2a) at (1124,3665) {检测到乱序而非丢包\&有SACK/LOST\\没有数据包在重传};
\node[elbl] (lCov2) at (1938,3583) {收到ACK覆盖High seq};
\node[elbl] (lPar2) at (1933,3669) {收到partial ACK};
\node[elbl] (lNo2) at (1728,3891) {没有检测到乱序\&\\有数据包在重传};
\node[elbl] (lReo2) at (1644,4019) {大于Reordering个重复ACK};
\node[elbl] (lLost2) at (1683,4114) {主动检测到LOST};
\node[elbl] (lDisSelf2) at (953,3962) {收到重复ACK\\小于Reordering};
\node[elbl] (lRecSelf2) at (2349,3958) {收到重复ACK};

\draw[flowline] (open2.north) -- ([xshift=-3pt]lOrd2.south);
\draw[flow] ([xshift=2pt]lOrd2.south) -- (open2.10);
\draw[flowline] (open2.165) .. controls (1450,3215) and (1250,3200) .. (lDup2.north east);
\draw[flow] (lDup2.south) .. controls (1080,3500) and (1060,3700) .. (dis2.95);
\draw[flowline] (open2.185) .. controls (1420,3270) and (1250,3290) .. (lSack2.north east);
\draw[flow] (lSack2.south) .. controls (1120,3550) and (1085,3750) .. (dis2.80);
\draw[flowline] (p3b.north) .. controls (1575,3590) and (1568,3560) .. ([xshift=-2pt]p3b.north |- lAll2.south);
\draw[flow] ([xshift=-2pt]p3b.north |- lAll2.north) .. controls (1575,3420) and (1585,3380) .. (open2.-100);
\draw[flowline] (p1b.west) .. controls (1460,3680) and (1440,3662) .. (lReo2a.east);
\draw[flow] ([xshift=-6pt]lReo2a.south) .. controls (1220,3730) and (1110,3800) .. (dis2.68);
\draw[flowline] (rec2.north) .. controls (2160,3780) and (2080,3650) .. ([xshift=5pt]lCov2.south);
\draw[flow] (lCov2.west) .. controls (1760,3580) and (1690,3620) .. (p2b.north);
\draw[flowline] (rec2.100) .. controls (2130,3800) and (2040,3700) .. ([xshift=5pt]lPar2.south);
\draw[flow] (lPar2.west) .. controls (1780,3650) and (1720,3660) .. (p2b.east);
\draw[flowline] (p1b.south) .. controls (1530,3790) and (1600,3860) .. (lNo2.north west);
\draw[flow] (lNo2.south east) .. controls (1900,3920) and (2050,3915) .. (rec2.west);
\draw[flowline] (dis2.east) .. controls (1250,3990) and (1400,4015) .. (lReo2.west);
\draw[flow] (lReo2.east) .. controls (1900,4010) and (2050,3970) .. (rec2.190);
\draw[flowline] (dis2.-75) .. controls (1200,4050) and (1450,4115) .. (lLost2.west);
\draw[flow] (lLost2.east) .. controls (1900,4100) and (2100,4050) .. (rec2.215);
\draw[flowline] (dis2.south) -- (lDisSelf2.east);
\draw[flow] ([xshift=4pt]lDisSelf2.north) -- (dis2.west);
\draw[flowline] (rec2.east) -- (lRecSelf2.north west);
\draw[flow] (lRecSelf2.west) -- (rec2.-50);

\node[txt, font=\fsz{4}{5.2}, text=red] (optNote) at (1827,3336) {我们看到，优化后的状态机的Mid Switch\\
更加复杂了，为了不让这个状态机变成蜘\\
蛛网，特意省略了一些无关紧要的状态转\\
换};

\end{tikzpicture}
\end{document}
